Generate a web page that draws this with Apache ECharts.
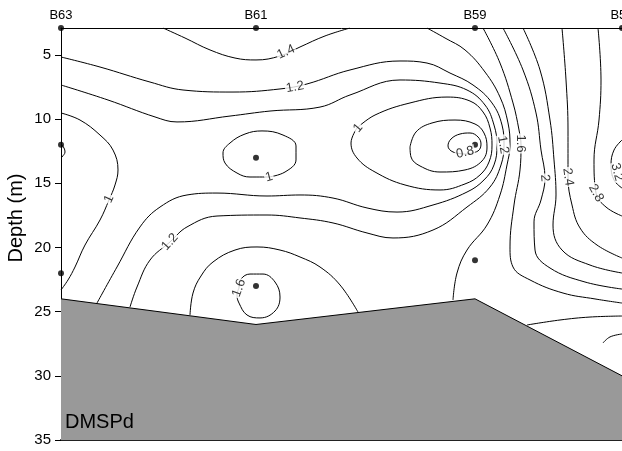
<!DOCTYPE html>
<html>
<head>
<meta charset="utf-8">
<title>DMSPd section</title>
<script src="https://cdn.jsdelivr.net/npm/echarts@6.0.0/dist/echarts.min.js"></script>
<style>
html, body { margin: 0; padding: 0; background: #fff; overflow: hidden; }
#chart { width: 622px; height: 451px; }
</style>
</head>
<body>
<div id="chart"></div>
<script>
// stations along the transect, distance in km from B63
var stations = ['B63', 'B61', 'B59', 'B57'];
var stationDist = [0, 19.5, 41.4, 56.1];
var bottomDepth = [24, 26, 24, 30];

// sampling depths below the surface
var sampleDist = [0, 0, 19.5, 19.5, 41.4, 41.4];
var sampleDepth = [12, 22, 13, 23, 12, 21];

var depthTicks = [5, 10, 15, 20, 25, 30, 35];
var surface = 2.9;

var c14 = [[10.2,2.9],[12.4,3.68],[14.9,4.61],[17.4,5.24],[19.5,5.39],[21.9,5.08],[23.9,4.38],[26.4,3.52],[28.9,2.9]];
var c12 = [[0,5.16],[3.9,5.94],[8.9,7.11],[12.2,7.73],[17.2,7.89],[21.9,7.65],[24.6,7.26],[28.9,6.17],[33.9,5.47],[36.6,5.63],[38.9,6.41],[41.2,7.34],[43.1,8.74],[44.1,10.46],[44.3,12.02],[44.0,13.57],[42.9,15.29],[40.6,16.85],[37.2,18.64],[33.2,19.26],[30.6,18.87],[27.2,18.09],[23.9,17.7],[20.6,17.47],[15.6,17.55],[12.6,18.4],[10.9,19.57],[8.9,20.98],[7.6,23.08],[6.9,24.64]];
var c11 = [[0,7.34],[4.7,8.51],[9.4,9.83],[11.6,10.22],[16.9,9.76],[20.9,9.37],[25.9,9.06],[28.9,8.12],[33.9,6.95],[37.9,7.19],[40.6,7.73],[42.4,8.9],[43.3,10.46],[43.6,12.02],[43.3,13.57],[42.3,14.74],[40.6,15.68],[37.2,16.69],[33.6,17.24],[30.6,16.92],[27.2,16.15],[23.9,15.91],[20.6,15.99],[15.6,15.76],[12.6,15.91],[9.9,16.85],[7.9,18.4],[5.6,21.52],[3.6,24.33]];
var c10 = [[0,9.52],[1.9,10.07],[3.9,11.24],[5.2,12.41],[5.7,13.96],[5.4,15.13],[4.8,16.3],[3.9,17.86],[2.4,19.81],[1.4,21.52],[0.7,22.53],[0,23.31]];
var cB63 = [[0,11.94],[0.3,12.25],[0.4,12.56],[0.1,12.95],[0,13.03]];
var cB61a = [[20.8,14.51],[18.9,14.51],[17.6,14.2],[16.4,13.42],[16.2,12.64],[16.9,11.86],[18.4,11.16],[20.1,10.92],[22.2,11.24],[23.5,12.09],[23.5,13.18],[22.4,14.12],[20.8,14.51]];
var cDome = [[12.9,25.26],[13.2,23.55],[14.0,22.22],[15.2,21.13],[17.4,20.2],[19.6,19.96],[21.9,20.2],[23.9,20.74],[25.9,21.52],[27.9,22.92],[29.7,25.03]];
var cB61b = [[17.8,23.16],[18.0,22.46],[18.9,22.07],[20.2,22.07],[21.4,22.69],[21.9,23.86],[21.4,24.95],[19.9,25.49],[18.6,25.26],[17.8,24.33],[17.6,23.7],[17.8,23.16]];
var c08 = [[40.5,12.72],[39.2,12.56],[38.7,12.09],[39.0,11.55],[39.9,11.16],[40.9,11.08],[41.7,11.39],[42.0,11.94],[41.7,12.48],[40.5,12.72]];
var c09 = [[34.9,12.17],[35.5,11.0],[37.1,10.3],[39.4,10.07],[41.4,10.38],[42.3,11.08],[42.6,12.17],[42.1,13.26],[40.4,13.96],[37.9,14.12],[35.9,13.65],[35.0,12.95],[34.9,12.17]];
var c10b = [[29.6,10.69],[31.4,9.68],[34.9,8.74],[38.6,8.28],[40.9,8.59],[42.2,9.44],[42.9,10.69],[43.1,12.02],[42.8,13.34],[41.9,14.35],[40.4,15.05],[37.9,15.52],[34.4,15.13],[31.4,14.12],[29.6,13.03],[29.0,11.86],[29.6,10.69]];
var cD = [[36.6,2.9],[38.4,3.68],[40.4,4.61],[42.4,6.33],[43.9,8.28],[44.7,10.3],[44.9,12.02],[44.6,13.57],[43.9,15.91],[42.6,18.25],[40.6,20.2],[39.6,21.99],[39.2,24.09]];
var c16 = [[42.2,2.9],[43.9,5.63],[45.2,8.74],[45.8,10.85],[46.0,12.02],[45.9,13.96],[45.3,16.69],[44.9,19.96],[45.2,21.52],[46.9,22.53],[50.2,23.55],[53.4,24.01],[56.1,24.33]];
var c20 = [[44.2,2.9],[46.2,6.17],[47.5,9.52],[48.0,12.41],[48.4,14.59],[48.0,16.3],[47.3,18.01],[47.4,20.2],[48.9,21.6],[52.4,22.69],[56.1,23.24]];
var c22 = [[46.2,2.9],[47.9,6.17],[48.9,10.07],[49.3,13.18],[49.5,15.91],[49.2,18.25],[50.1,20.2],[52.9,21.37],[56.1,21.99]];
var c24 = [[50.1,2.9],[50.5,6.95],[50.7,10.85],[50.7,14.51],[51.1,16.69],[51.9,18.48],[53.6,19.81],[56.1,20.82]];
var c28 = [[53.7,2.9],[54.0,6.95],[53.8,10.07],[53.3,13.18],[53.5,15.76],[54.5,16.85],[56.1,17.55]];
var c32 = [[56.1,11.63],[55.3,12.41],[55.0,13.57],[55.3,14.74],[56.1,15.37]];
var cK = [[46.6,26.04],[49.9,25.65],[52.9,25.42],[56.1,25.34]];
var cL = [[54.2,27.44],[54.9,26.97],[56.1,26.74]];

var contourLines = [c14, c12, c11, c10, cB63, cB61a, cDome, cB61b, c08, c09, c10b, cD, c16, c20, c22, c24, c28, c32, cK, cL];

// contour labels
var labelText = ['1.4', '1.2', '1.2', '1.2', '1', '1', '1', '0.8', '1.6', '1.6', '2', '2.4', '2.8', '3.2'];
var labelPos = [[22.5,4.77],[23.4,7.5],[44.2,12.0],[10.9,19.57],[4.8,16.22],[20.8,14.51],[29.7,10.69],[40.4,12.6],[17.8,23.16],[46.0,11.9],[48.4,14.59],[50.7,14.51],[53.5,15.76],[55.6,14.12]];
var labelTilt = [25, 10, -80, 48, 65, 15, 50, 12, 70, -90, -85, -82, -60, -75];

var font = 'Liberation Sans, Arial, sans-serif';

var series = [];
contourLines.forEach(function (pts) {
    series.push({
        type: 'line',
        data: pts,
        smooth: 0.4,
        symbol: 'none',
        silent: true,
        z: 2,
        lineStyle: { color: '#000', width: 1 }
    });
});

// sea floor
series.push({
    type: 'line',
    data: stationDist.map(function (d, i) { return [d, bottomDepth[i]]; }),
    symbol: 'none',
    silent: true,
    z: 3,
    lineStyle: { color: '#000', width: 1 },
    areaStyle: { color: '#999999', opacity: 1, origin: 'end' }
});

// stations and samples
var dots = stationDist.map(function (d) { return [d, surface]; })
    .concat(sampleDist.map(function (d, i) { return [d, sampleDepth[i]]; }));
series.push({
    type: 'scatter',
    data: dots,
    symbolSize: 6,
    silent: true,
    z: 4,
    itemStyle: { color: '#000' }
});

series.push({
    type: 'scatter',
    symbolSize: 1,
    silent: true,
    z: 5,
    itemStyle: { color: 'rgba(0,0,0,0)' },
    data: labelPos.map(function (p, i) {
        return { value: p, name: labelText[i], label: { rotate: labelTilt[i] } };
    }),
    label: {
        show: true,
        position: 'inside',
        formatter: '{b}',
        color: '#000',
        fontSize: 13,
        fontFamily: font,
        backgroundColor: '#fff',
        padding: [0, 1]
    }
});

var chart = echarts.init(document.getElementById('chart'), null, { width: 622, height: 451 });
chart.setOption({
    animation: false,
    backgroundColor: '#fff',
    grid: { left: 61, right: 0, top: 28, bottom: 11, outerBoundsMode: 'none' },
    xAxis: [{
        type: 'value',
        position: 'top',
        min: 0,
        max: 56.1,
        axisLine: { show: true, onZero: false, lineStyle: { color: '#000', width: 1 } },
        axisTick: { show: false },
        axisLabel: {
            customValues: stationDist,
            formatter: function (v) { return stations[stationDist.indexOf(v)]; },
            color: '#000',
            fontSize: 13,
            fontFamily: font,
            margin: 6
        },
        splitLine: { show: false }
    }, {
        type: 'value',
        position: 'bottom',
        min: 0,
        max: 56.1,
        axisLine: { show: true, onZero: false, lineStyle: { color: '#222', width: 2 } },
        axisTick: { show: false },
        axisLabel: { show: false },
        splitLine: { show: false }
    }],
    yAxis: {
        type: 'value',
        inverse: true,
        min: surface,
        max: 35,
        axisLine: { show: true, onZero: false, lineStyle: { color: '#000', width: 1 } },
        axisTick: { show: true, length: 6, customValues: depthTicks, lineStyle: { color: '#000' } },
        axisLabel: { customValues: depthTicks, color: '#000', fontSize: 15, fontFamily: font, margin: 10 },
        splitLine: { show: false }
    },
    graphic: [{
        type: 'text',
        x: 65,
        y: 412,
        z: 10,
        style: { text: 'DMSPd', fontSize: 20, fontFamily: font, fill: '#000', verticalAlign: 'top' }
    }, {
        type: 'text',
        x: 16,
        y: 218,
        rotation: Math.PI / 2,
        style: { text: 'Depth (m)', fontSize: 20, fontFamily: font, fill: '#000', align: 'center', verticalAlign: 'middle' }
    }],
    series: series
});
</script>
</body>
</html>
